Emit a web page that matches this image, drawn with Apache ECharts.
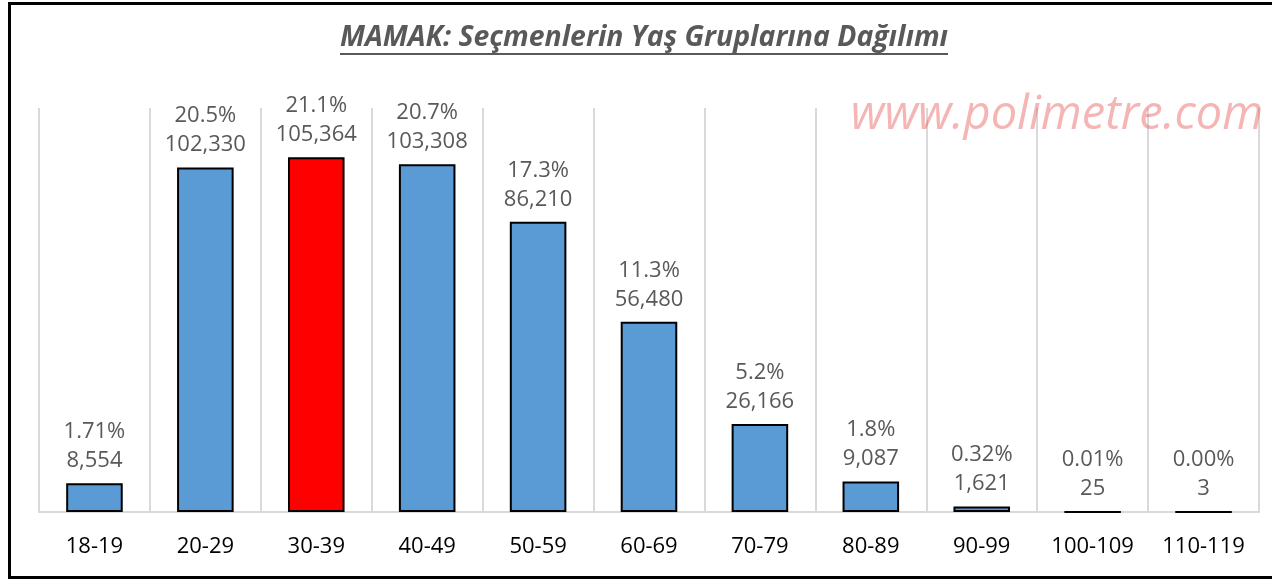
<!DOCTYPE html>
<html>
<head>
<meta charset="utf-8">
<script src="https://cdn.jsdelivr.net/npm/echarts@6/dist/echarts.min.js"></script>
<style>html,body{margin:0;padding:0;background:#fff;}#c{width:1272px;height:580px;}</style>
</head>
<body>
<div id="c"></div>
<script>
const categories = ['18-19','20-29','30-39','40-49','50-59','60-69','70-79','80-89','90-99','100-109','110-119'];
const voters = [8554, 102330, 105364, 103308, 86210, 56480, 26166, 9087, 1621, 25, 3];
const shares = ['1.71%','20.5%','21.1%','20.7%','17.3%','11.3%','5.2%','1.8%','0.32%','0.01%','0.00%'];
const highlightIndex = 2;

const chart = echarts.init(document.getElementById('c'), null, {renderer: 'canvas'});
const fontFam = '"Open Sans", "Noto Sans", sans-serif';
chart.setOption({
  animation: false,
  backgroundColor: '#fff',
  grid: {left: 39, right: 13, top: 108, bottom: 68},
  xAxis: {
    type: 'category',
    data: categories,
    axisLine: {show: true, lineStyle: {color: '#D9D9D9', width: 2}},
    axisTick: {show: false},
    splitLine: {show: true, lineStyle: {color: '#D9D9D9', width: 2}},
    axisLabel: {color: '#000', fontSize: 22, fontFamily: fontFam, margin: 24, interval: 0}
  },
  yAxis: {
    type: 'value', min: 0, max: 120000, show: false, splitLine: {show: false}
  },
  series: [{
    type: 'bar',
    barCategoryGap: '49%',
    data: voters.map((v, i) => ({
      value: v,
      itemStyle: {color: i === highlightIndex ? '#FF0000' : '#5B9BD5', borderColor: '#000', borderWidth: 2}
    })),
    label: {
      show: true,
      position: 'top',
      distance: 8,
      color: '#595959',
      fontSize: 22,
      lineHeight: 29,
      fontFamily: fontFam,
      formatter: p => shares[p.dataIndex] + '\n' + p.value.toLocaleString('en-US')
    }
  }],
  graphic: [
    {type: 'rect', shape: {x: 9.5, y: 3.5, width: 1290, height: 574}, style: {fill: 'none', stroke: '#000', lineWidth: 3}, silent: true},
    {type: 'text', x: 644, y: 38, style: {text: 'MAMAK: Seçmenlerin Yaş Gruplarına Dağılımı', fontSize: 28.4, fontStyle: 'italic', fontWeight: 'bold', fontFamily: fontFam, fill: '#595959', align: 'center', verticalAlign: 'middle'}},
    {type: 'line', shape: {x1: 340, y1: 54, x2: 948, y2: 54}, style: {stroke: '#595959', lineWidth: 2}},
    {type: 'text', x: 1057, y: 116, z: 10, style: {text: 'www.polimetre.com', fontSize: 47, fontStyle: 'italic', fontFamily: fontFam, fill: 'rgba(236,90,90,0.45)', align: 'center', verticalAlign: 'middle'}}
  ]
});
</script>
</body>
</html>
